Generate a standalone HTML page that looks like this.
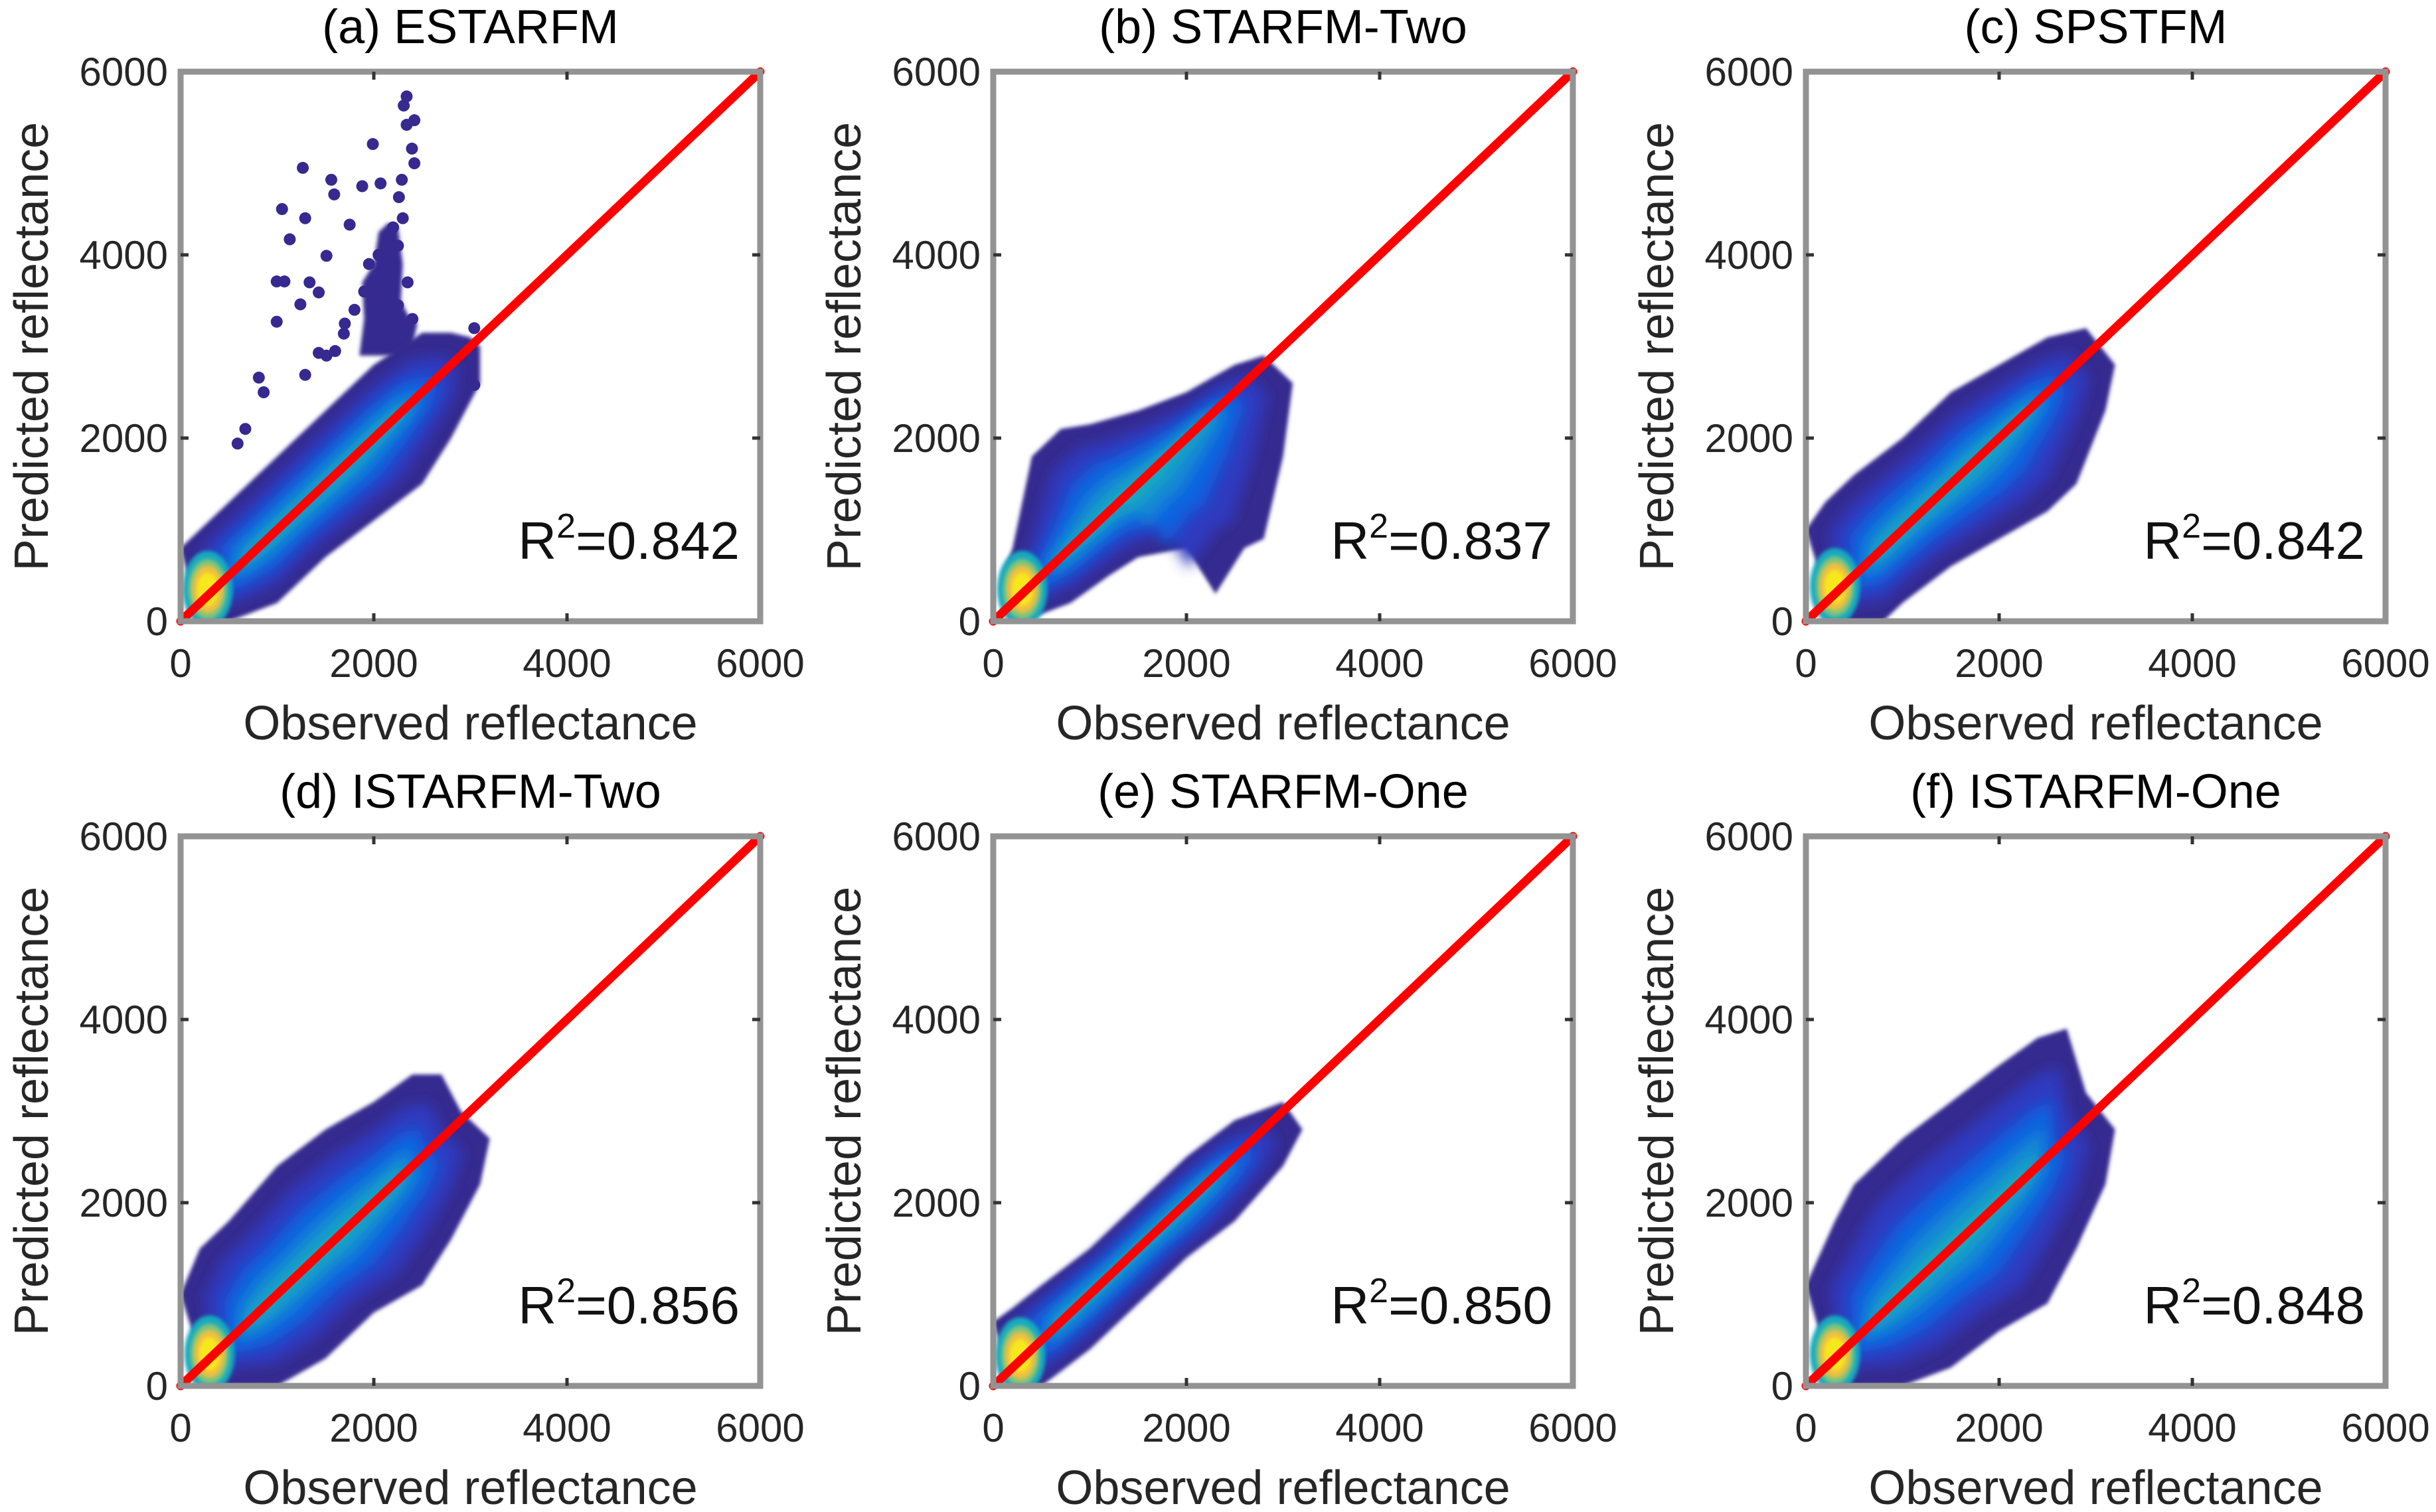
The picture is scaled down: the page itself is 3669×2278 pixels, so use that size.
<!DOCTYPE html>
<html><head><meta charset="utf-8"><style>
html,body{margin:0;padding:0;background:#fff;}
svg{display:block;font-family:"Liberation Sans",Arial,sans-serif;}
</style></head><body>
<svg id="fig" width="3669" height="2278" viewBox="0 0 3669 2278" xmlns="http://www.w3.org/2000/svg">
<defs><filter id="soft" x="-5%" y="-5%" width="110%" height="110%"><feGaussianBlur stdDeviation="10"/></filter>
<filter id="soft2" x="-5%" y="-5%" width="110%" height="110%"><feGaussianBlur stdDeviation="3"/></filter></defs>
</svg>
<script>
const titles = ["(a) ESTARFM","(b) STARFM-Two","(c) SPSTFM","(d) ISTARFM-Two","(e) STARFM-One","(f) ISTARFM-One"];
const r2Values = ["0.842","0.837","0.842","0.856","0.850","0.848"];
const tickValues = [0,2000,4000,6000];
// Outer envelope of each scatter cloud (data units)
const upperX = [
 [0,200,500,1000,1500,2000,2500,2800,3000,3100],
 [100,200,400,700,1000,1500,2000,2500,2800,3100],
 [0,200,500,1000,1500,2000,2500,2900,3200],
 [0,200,500,1000,1500,2000,2400,2700,2900,3200],
 [0,200,500,1000,1500,2000,2500,3000,3200],
 [0,300,500,1000,1500,2000,2400,2700,2900,3200]];
const upperY = [
 [800,1000,1300,1800,2300,2800,3150,3150,3100,3000],
 [500,800,1800,2100,2150,2300,2500,2800,2900,2600],
 [1000,1300,1600,2000,2500,2800,3100,3200,2800],
 [1000,1500,1800,2400,2800,3100,3400,3400,3000,2700],
 [700,850,1100,1500,2000,2500,2900,3100,2800],
 [1100,1800,2200,2700,3100,3500,3800,3900,3200,2800]];
const lowerX = [
 [200,500,1000,1500,2000,2500,2800,3100],
 [300,800,1200,1500,2000,2300,2600,2800,3000],
 [300,800,1000,1500,2000,2500,2800,3100],
 [300,1000,1500,2000,2500,2800,3100],
 [200,500,1000,1500,2000,2500,3000],
 [300,1000,1500,2000,2500,2800,3100]];
const lowerY = [
 [0,0,200,700,1100,1500,2000,2600],
 [0,200,500,700,800,300,800,900,1800],
 [0,0,200,600,900,1200,1500,2300],
 [0,0,300,800,1100,1600,2200],
 [0,0,400,900,1400,1800,2400],
 [0,0,200,600,900,1500,2200]];
// Outlier points in panel (a)
const outX = [2340,2310,2420,2340,1990,2395,2420,1265,2290,1560,1880,2070,1590,2260,1050,1290,1750,1130,1510,995,1075,1335,1430,1240,995,1690,1430,1510,810,1290,860,3040,3040,590,670,2200,2300,2150,2250,2050,1950,2100,2350,1900,2000,2250,2150,1800,2400,2050,1700,1600];
const outY = [5730,5630,5470,5420,5210,5160,5000,4950,4820,4820,4750,4780,4660,4630,4500,4400,4330,4170,3990,3710,3710,3700,3590,3460,3270,3140,2930,2900,2660,2690,2500,3200,2580,1940,2100,4300,4400,4200,4100,4000,3900,3800,3700,3600,3500,3450,3350,3400,3300,3150,3250,2950];
// Spike cluster in panel (a)
const spikeX = [1850,1900,1880,2000,2050,2150,2250,2300,2280,2350,2450,2400,2300];
const spikeY = [2900,3300,3700,3900,4250,4350,4300,3900,3500,3350,3250,3000,2900];
// hotspot centre / radii (data units)
const hotX = [280,300,300,300,280,300];
const hotY = [350,350,380,350,330,350];

const colX = [272,1496,2720], rowY = [108,1260], W = 873, H = 828;
const layerF = [1,0.72,0.48,0.28,0.12];
const layerC = ["#36298f","#2d3bc0","#0d62df","#1488d4","#18aac0"];
const NS = "http://www.w3.org/2000/svg";
const svg = document.getElementById('fig');
function mk(tag, attrs, parent){const e=document.createElementNS(NS,tag);for(const k in attrs)e.setAttribute(k,attrs[k]);(parent||svg).appendChild(e);return e;}

for(let p=0;p<6;p++){
  const x0 = colX[p%3], y0 = rowY[Math.floor(p/3)];
  const sx = v => x0 + v/6000*W;
  const sy = v => y0 + H - v/6000*H;
  const g = mk('g',{});
  
  
  const clipId='clip'+p;
  const cp = mk('clipPath',{id:clipId},g); mk('rect',{x:x0,y:y0,width:W,height:H},cp);
  const plot = mk('g',{'clip-path':'url(#'+clipId+')'},g);
  const pts=[];
  for(let i=0;i<upperX[p].length;i++) pts.push([upperX[p][i],upperY[p][i]]);
  for(let i=lowerX[p].length-1;i>=0;i--) pts.push([lowerX[p][i],lowerY[p][i]]);
  const uc=1300;
  if(p===0){
    const d = spikeX.map((x,i)=>(i?'L':'M')+sx(x)+' '+sy(spikeY[i])).join(' ')+'Z';
    const e = mk('path',{d:d,fill:"#36298f",filter:'url(#soft2)'},plot);
    
    
    for(let i=0;i<outX.length;i++){
      const c = mk('circle',{cx:sx(outX[i]),cy:sy(outY[i]),r:9,fill:"#36298f"},plot);
      
      
    }
  }
  layerF.forEach((f,k)=>{
    const gfac = 0.55+0.45*f;
    const d = pts.map((q,i)=>{
      let u=(q[0]+q[1])/2, v=(q[1]-q[0])/2;
      u = uc+(u-uc)*gfac; v=v*f;
      return (i?'L':'M')+sx(u-v).toFixed(1)+' '+sy(u+v).toFixed(1);
    }).join(' ')+'Z';
    const e = mk('path',{d:d,fill:layerC[k],filter:k?'url(#soft)':'url(#soft2)'},plot);
    
    
  });
  [[260,420,"#18aac0"],[200,330,"#7fc47c"],[160,260,"#f0c040"],[110,180,"#f7e81a"]].forEach(h=>{
    const e = mk('ellipse',{cx:sx(hotX[p]),cy:sy(hotY[p]),rx:h[0]/6000*W,ry:h[1]/6000*H,fill:h[2],filter:'url(#soft2)'},plot);
    
    
  });
  const ln = mk('line',{x1:sx(0),y1:sy(0),x2:sx(6000),y2:sy(6000),stroke:"#ff0000","stroke-width":13,"stroke-linecap":"round"},g);
  
  
  const box = mk('rect',{x:x0,y:y0,width:W,height:H,fill:"none",stroke:"#939393","stroke-width":9},g);
  
  
  tickValues.forEach(t=>{
    if(t>0&&t<6000){
      mk('line',{x1:sx(t),y1:y0+H,x2:sx(t),y2:y0+H-12,stroke:"#333","stroke-width":5},g);
      mk('line',{x1:sx(t),y1:y0,x2:sx(t),y2:y0+12,stroke:"#333","stroke-width":5},g);
      mk('line',{x1:x0,y1:sy(t),x2:x0+12,y2:sy(t),stroke:"#333","stroke-width":5},g);
      mk('line',{x1:x0+W,y1:sy(t),x2:x0+W-12,y2:sy(t),stroke:"#333","stroke-width":5},g);
    }
    const xl = mk('text',{x:sx(t),y:y0+H+84,'font-size':60,'text-anchor':'middle',fill:"#262626"},g);
    xl.textContent=t;
    
    
    const yl = mk('text',{x:x0-19,y:sy(t)+21,'font-size':60,'text-anchor':'end',fill:"#262626"},g);
    yl.textContent=t;
    
    
  });
  const tt = mk('text',{x:x0+W/2,y:y0-43,'font-size':72,'text-anchor':'middle',fill:"#000"},g);
  tt.textContent=titles[p];
  
  
  const xt = mk('text',{x:x0+W/2,y:y0+H+178,'font-size':72,'text-anchor':'middle',fill:"#262626"},g);
  xt.textContent="Observed reflectance";
  
  
  const yx = x0-200, yy = y0+H/2;
  const yt = mk('text',{x:yx,y:yy,'font-size':72,'text-anchor':'middle',fill:"#262626",transform:'rotate(-90 '+yx+' '+yy+')'},g);
  yt.textContent="Predicted reflectance";
  
  
  const rt = mk('text',{x:x0+W-31,y:y0+H-94,'font-size':80,'text-anchor':'end',fill:"#111"},g);
  
  
  const a=mk('tspan',{},rt); a.textContent="R";
  const b=mk('tspan',{dy:-32,'font-size':52},rt); b.textContent="2";
  const c=mk('tspan',{dy:32},rt); c.textContent="="+r2Values[p];
}
</script>
</body></html>
